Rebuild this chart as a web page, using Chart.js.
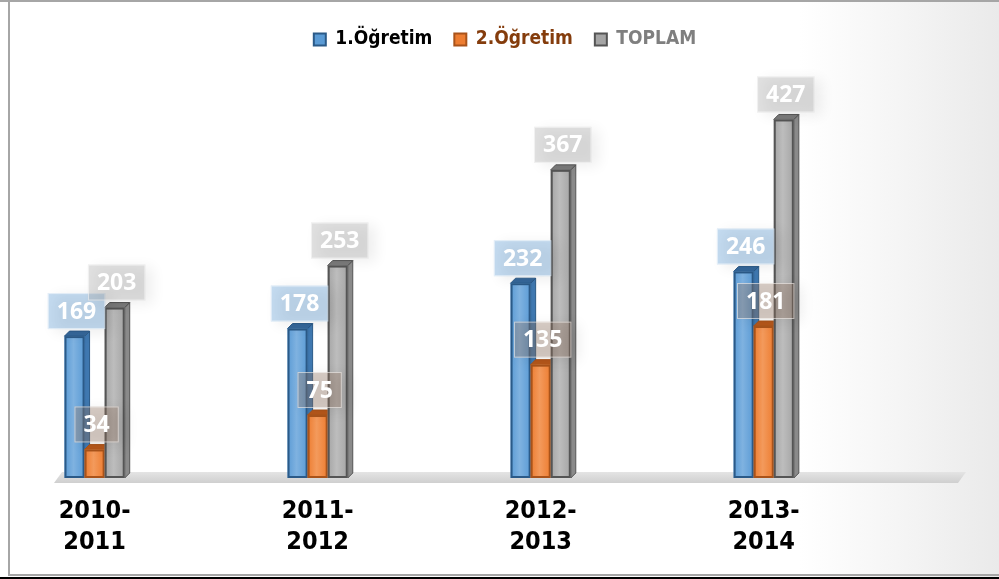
<!DOCTYPE html>
<html>
<head>
<meta charset="utf-8">
<script src="https://cdn.jsdelivr.net/npm/chart.js@4/dist/chart.umd.min.js"></script>
<style>
  html, body { margin: 0; padding: 0; background: #fff; }
  #wrap { width: 999px; height: 579px; }
</style>
</head>
<body>
<div id="wrap"><canvas id="c" width="999" height="579"></canvas></div>
<script>
// data
const years = [['2010-', '2011'], ['2011-', '2012'], ['2012-', '2013'], ['2013-', '2014']];
const seriesNames = ['1.Öğretim', '2.Öğretim', 'TOPLAM'];
const ogretim1 = [169, 178, 232, 246];
const ogretim2 = [34, 75, 135, 181];
const toplam = [203, 253, 367, 427];

// look of each series: front, side, top, edge, label box, legend text
const looks = [
  { front: '#5b9bd5', light: '#7fb2e0', side: '#3f78b0', top: '#35679a', edge: '#2b5a88', box: 'rgba(91,155,213,0.36)', legend: '#000000' },
  { front: '#ed7d31', light: '#f39a5c', side: '#c4601d', top: '#b5571a', edge: '#a9531a', box: 'rgba(150,120,100,0.36)', legend: '#843c0c' },
  { front: '#a5a5a5', light: '#bdbdbd', side: '#8a8a8a', top: '#7a7a7a', edge: '#555555', box: 'rgba(165,165,165,0.33)', legend: '#7f7f7f' }
];

const DX = 5, DY = -5;
const condensed = '"DejaVu Sans Condensed", "DejaVu Sans", sans-serif';

const toPoints = arr => arr.map((v, i) => ({ x: i, y: v }));

// background, frame and floor
const frame = {
  id: 'frame',
  beforeDraw(chart) {
    const { ctx, width, height } = chart;
    ctx.save();
    ctx.fillStyle = '#ffffff';
    ctx.fillRect(0, 0, width, height);
    const g = ctx.createLinearGradient(800, 0, width, 0);
    g.addColorStop(0, 'rgba(235,235,235,0)');
    g.addColorStop(1, 'rgba(234,234,234,1)');
    ctx.fillStyle = g;
    ctx.fillRect(800, 0, width - 800, height);
    ctx.fillStyle = '#a6a6a6';
    ctx.fillRect(0, 0, width, 2);
    ctx.fillRect(8, 0, 2, 576);
    ctx.fillRect(8, 574, width, 2);
    ctx.fillStyle = '#000000';
    ctx.fillRect(0, 577, width, 2);
    ctx.restore();
  },
  beforeDatasetsDraw(chart) {
    const { ctx, chartArea } = chart;
    const base = chart.scales.y.getPixelForValue(0);
    ctx.save();
    const g = ctx.createLinearGradient(0, base - 6, 0, base + 5);
    g.addColorStop(0, '#e4e4e4');
    g.addColorStop(1, '#cfcfcf');
    ctx.fillStyle = g;
    ctx.beginPath();
    ctx.moveTo(chartArea.left + 4, base + 5);
    ctx.lineTo(chartArea.right - 2, base + 5);
    ctx.lineTo(chartArea.right + 6, base - 6);
    ctx.lineTo(chartArea.left + 12, base - 6);
    ctx.closePath();
    ctx.fill();
    ctx.restore();
  }
};

// 3D-looking bars and value boxes
const bars3d = {
  id: 'bars3d',
  afterDatasetsDraw(chart) {
    const { ctx } = chart;
    const tops = [];
    chart.data.datasets.forEach((ds, di) => {
      const look = looks[di];
      chart.getDatasetMeta(di).data.forEach((bar, i) => {
        const w = bar.width, l = bar.x - w / 2, r = bar.x + w / 2;
        const t = bar.y, b = bar.base;
        ctx.save();
        // side
        ctx.fillStyle = look.side;
        ctx.strokeStyle = look.edge;
        ctx.lineWidth = 1;
        ctx.beginPath();
        ctx.moveTo(r, t); ctx.lineTo(r + DX, t + DY); ctx.lineTo(r + DX, b + DY); ctx.lineTo(r, b);
        ctx.closePath(); ctx.fill(); ctx.stroke();
        // top
        ctx.fillStyle = look.top;
        ctx.beginPath();
        ctx.moveTo(l, t); ctx.lineTo(r, t); ctx.lineTo(r + DX, t + DY); ctx.lineTo(l + DX, t + DY);
        ctx.closePath(); ctx.fill(); ctx.stroke();
        // front
        const g = ctx.createLinearGradient(l, 0, r, 0);
        g.addColorStop(0, look.front);
        g.addColorStop(0.45, look.light);
        g.addColorStop(1, look.front);
        ctx.fillStyle = g;
        ctx.fillRect(l, t, w, b - t);
        ctx.lineWidth = 2;
        ctx.strokeRect(l + 1, t + 1, w - 2, b - t - 2);
        ctx.restore();
        tops.push({ x: bar.x, y: t, v: ds.data[i].y, look });
      });
    });
    ctx.save();
    ctx.font = 'bold 23px "Open Sans"';
    ctx.textAlign = 'center';
    ctx.textBaseline = 'middle';
    tops.forEach(p => {
      const txt = String(p.v);
      const bw = ctx.measureText(txt).width + 18, bh = 36;
      const cx = p.x + 2, cy = p.y - 25;
      ctx.save();
      ctx.shadowColor = 'rgba(0,0,0,0.22)';
      ctx.shadowBlur = 14;
      ctx.shadowOffsetX = 7;
      ctx.shadowOffsetY = 3;
      ctx.fillStyle = p.look.box;
      ctx.fillRect(cx - bw / 2, cy - bh / 2, bw, bh);
      ctx.restore();
      ctx.strokeStyle = 'rgba(255,255,255,0.55)';
      ctx.lineWidth = 1;
      ctx.strokeRect(cx - bw / 2 + 0.5, cy - bh / 2 + 0.5, bw - 1, bh - 1);
      ctx.fillStyle = '#ffffff';
      ctx.fillText(txt, cx, cy + 1);
    });
    ctx.restore();
  }
};

new Chart(document.getElementById('c'), {
  type: 'bar',
  data: {
    datasets: [
      { label: seriesNames[0], data: toPoints(ogretim1), backgroundColor: 'rgba(0,0,0,0)', borderWidth: 0 },
      { label: seriesNames[1], data: toPoints(ogretim2), backgroundColor: 'rgba(0,0,0,0)', borderWidth: 0 },
      { label: seriesNames[2], data: toPoints(toplam), backgroundColor: 'rgba(0,0,0,0)', borderWidth: 0 }
    ]
  },
  options: {
    responsive: false,
    animation: false,
    categoryPercentage: 0.27,
    barPercentage: 1,
    layout: { padding: { top: 8, left: 50, right: 39, bottom: 3 } },
    scales: {
      x: {
        type: 'linear',
        offset: false,
        min: -0.2,
        max: 3.88,
        grid: { display: false, drawTicks: false },
        border: { display: false },
        afterBuildTicks: s => { s.ticks = years.map((_, i) => ({ value: i })); },
        ticks: {
          autoSkip: false,
          maxRotation: 0,
          padding: 18,
          color: '#000000',
          font: { family: condensed, size: 25, weight: 'bold', lineHeight: 1.24 },
          callback: v => years[v] || ''
        }
      },
      y: { display: false, min: 0, max: 499 }
    },
    plugins: {
      tooltip: { enabled: false },
      legend: {
        position: 'top',
        labels: {
          boxWidth: 12,
          boxHeight: 12,
          padding: 22,
          font: { family: condensed, size: 19, weight: 'bold' },
          generateLabels: chart => chart.data.datasets.map((ds, i) => ({
            text: ds.label,
            fillStyle: looks[i].front,
            strokeStyle: looks[i].edge,
            lineWidth: 2,
            fontColor: looks[i].legend,
            datasetIndex: i,
            hidden: false
          }))
        }
      }
    }
  },
  plugins: [frame, bars3d]
});
</script>
</body>
</html>
